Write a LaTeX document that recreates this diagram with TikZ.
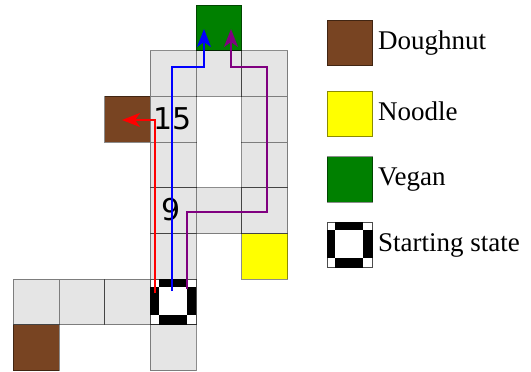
\documentclass[tikz,border=0pt]{standalone}
\usepackage{fontspec}
\setmainfont{Liberation Serif}
\newfontfamily\numfont{DejaVu Sans}
\usetikzlibrary{arrows.meta}
\definecolor{cellgray}{RGB}{229,229,229}
\definecolor{doughnut}{RGB}{120,68,34}
\definecolor{noodle}{RGB}{255,255,0}
\definecolor{vegan}{RGB}{0,128,0}
\definecolor{pathred}{RGB}{255,0,0}
\definecolor{pathblue}{RGB}{0,0,255}
\definecolor{pathpurple}{RGB}{128,0,128}
\newcommand\startmark[2]{%
  \fill[black] ({#1+0.18*45.7},{#2}) rectangle ({#1+0.79*45.7},{#2+0.18*45.7});
  \fill[black] ({#1+0.18*45.7},{#2+0.79*45.7}) rectangle ({#1+0.79*45.7},{#2+45.7});
  \fill[black] ({#1},{#2+0.18*45.7}) rectangle ({#1+0.18*45.7},{#2+0.79*45.7});
  \fill[black] ({#1+0.79*45.7},{#2+0.18*45.7}) rectangle ({#1+45.7},{#2+0.79*45.7});
}
\begin{document}
\begin{tikzpicture}[x=1pt,y=-1pt,
  cell/.style={draw=black, draw opacity=0.45, line width=1pt, minimum size=45.7pt,
    inner sep=0pt, outer sep=0pt, fill=cellgray},
  border/.style={draw=black, draw opacity=0.45, line width=1pt},
  route/.style={line width=1.4pt, -{Stealth[length=18pt,width=14pt,inset=5pt]}},
  num/.style={font=\numfont\fontsize{30}{30}\selectfont, inner sep=0pt},
  legtext/.style={font=\fontsize{27}{27}\selectfont, inner sep=0pt}]
\useasboundingbox (0,0) rectangle (531,372);

% grid cells
\begin{scope}[shift={(13.3,5)}, x=45.7pt, y=-45.7pt]
  \node[cell, fill=vegan] (c40) at (4.5,0.5) {};
  \node[cell] (c31) at (3.5,1.5) {};
  \node[cell] (c41) at (4.5,1.5) {};
  \node[cell] (c51) at (5.5,1.5) {};
  \node[cell, fill=doughnut] (c22) at (2.5,2.5) {};
  \node[cell] (c32) at (3.5,2.5) {};
  \node[cell] (c52) at (5.5,2.5) {};
  \node[cell] (c33) at (3.5,3.5) {};
  \node[cell] (c53) at (5.5,3.5) {};
  \node[cell] (c34) at (3.5,4.5) {};
  \node[cell] (c44) at (4.5,4.5) {};
  \node[cell] (c54) at (5.5,4.5) {};
  \node[cell] (c35) at (3.5,5.5) {};
  \node[cell, fill=noodle] (c55) at (5.5,5.5) {};
  \node[cell] (c06) at (0.5,6.5) {};
  \node[cell] (c16) at (1.5,6.5) {};
  \node[cell] (c26) at (2.5,6.5) {};
  \node[cell, fill=white] (c36) at (3.5,6.5) {};
  \node[cell, fill=doughnut] (c07) at (0.5,7.5) {};
  \node[cell] (c37) at (3.5,7.5) {};
\end{scope}
\startmark{150.4}{279.2}
\draw[border] (c36.north west) rectangle (c36.south east);

% numbers
\node[num, anchor=base] (n15) at (172.5,129) {15};
\node[num, anchor=base] (n9) at (171,220) {9};

% routes
\coordinate (r0) at (155,293);
\coordinate (rtip) at (122,120);
\coordinate (b0) at (172,291);
\coordinate (b1) at (204,67);
\coordinate (btip) at (204,29);
\coordinate (p0) at (187,289);
\coordinate (p1) at (267,212);
\coordinate (p2) at (231,67);
\coordinate (ptip) at (231,29);
\draw[route, pathred] (r0) |- (rtip);
\draw[route, pathblue] (b0) |- (b1) -- (btip);
\draw[route, pathpurple] (p0) |- (p1) |- (p2) -- (ptip);

% legend
\node[cell, fill=doughnut] (l1) at (350,43) {};
\node[legtext, anchor=base west] (t1) at (378,49) {Doughnut};
\node[cell, fill=noodle] (l2) at (350,114) {};
\node[legtext, anchor=base west] (t2) at (378,120) {Noodle};
\node[cell, fill=vegan] (l3) at (350,179.5) {};
\node[legtext, anchor=base west] (t3) at (378,185) {Vegan};
\node[cell, fill=white] (l4) at (350,245) {};
\startmark{327.15}{222.15}
\draw[border] (l4.north west) rectangle (l4.south east);
\node[legtext, anchor=base west] (t4) at (378,251) {Starting state};
\end{tikzpicture}
\end{document}
